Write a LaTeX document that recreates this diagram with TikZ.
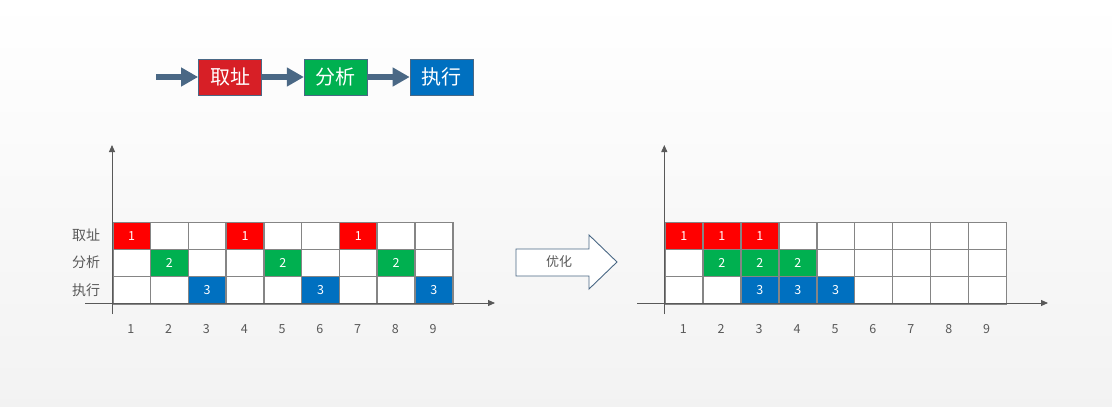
\documentclass[tikz,border=0pt]{standalone}
\usepackage{fontspec}
\setmainfont{Noto Sans CJK SC}
\usetikzlibrary{arrows.meta,positioning}

\definecolor{flowline}{HTML}{4A6885}
\definecolor{boxred}{HTML}{D71F26}
\definecolor{cellred}{HTML}{FF0000}
\definecolor{cellgreen}{HTML}{00B050}
\definecolor{cellblue}{HTML}{0070C0}
\definecolor{gridgray}{HTML}{858585}
\definecolor{axisgray}{HTML}{595959}

\tikzset{
  flowbox/.style={draw=flowline, line width=0.8pt, minimum width=63pt, minimum height=36pt,
    inner sep=0pt, text=white, font=\fontsize{20}{20}\selectfont},
  flowarrow/.style={draw=flowline, line width=6.5pt, -{Triangle[length=17pt,width=18pt]}},
  axisline/.style={draw=axisgray, line width=0.9pt, -{Triangle[length=7pt,width=6pt]}},
  cell/.style={draw=gridgray, line width=1.5pt, minimum width=37.8pt, minimum height=27.2pt,
    inner sep=0pt, anchor=north west, text=white, font=\fontsize{12.5}{12.5}\selectfont},
  ticklabel/.style={text=axisgray, font=\fontsize{12.5}{12.5}\selectfont},
  rowlabel/.style={text=axisgray, font=\fontsize{14}{14}\selectfont}
}

\begin{document}
\begin{tikzpicture}[x=1pt,y=-1pt]
    % Background
    \shade[top color=white, bottom color=black!5] (0,0) rectangle (1112,407);
    \useasboundingbox (0,0) rectangle (1112,407);

    % Pipeline stages
    \node[flowbox, fill=boxred] (fetch) at (230,77) {取址};
    \node[flowbox, fill=cellgreen, right=42pt of fetch] (decode) {分析};
    \node[flowbox, fill=cellblue, right=42pt of decode] (exec) {执行};
    \coordinate (start) at (156,77);
    \draw[flowarrow] (start) -- (fetch);
    \draw[flowarrow] (fetch) -- (decode);
    \draw[flowarrow] (decode) -- (exec);

    % Sequential schedule
    \foreach \r/\col in {1/cellred,2/cellgreen,3/cellblue} {
        \foreach \c in {1,...,9} {
            \pgfmathtruncatemacro{\m}{mod(\c-\r+9,3)}
            \ifnum\m=0
                \node[cell, fill=\col] (L\c\r) at ({112+(\c-1)*37.78},{221.5+(\r-1)*27.2}) {\r};
            \else
                \node[cell, fill=white] (L\c\r) at ({112+(\c-1)*37.78},{221.5+(\r-1)*27.2}) {};
            \fi
        }
    }
    \foreach \c in {1,...,9} {
        \node[ticklabel] (Lt\c) at ({112+(\c-0.5)*37.78},329) {\c};
    }
    \node[rowlabel] (lfetch) at (86,235.4) {取址};
    \node[rowlabel] (ldecode) at (86,262.6) {分析};
    \node[rowlabel] (lexec) at (86,289.8) {执行};
    \coordinate (Ly0) at (112,314);
    \coordinate (Ly1) at (112,145);
    \coordinate (Lx0) at (85,303);
    \coordinate (Lx1) at (495,303);
    \draw[axisline] (Ly0) -- (Ly1);
    \draw[axisline] (Lx0) -- (Lx1);

    % Optimise arrow
    \draw[draw=flowline, fill=white, line width=0.9pt]
        (516,249) -- (589,249) -- (589,235) -- (617,262) -- (589,289) -- (589,276) -- (516,276) -- cycle;
    \node[text=axisgray, font=\fontsize{13}{13}\selectfont] (opt) at (559,262) {优化};

    % Overlapped schedule
    \foreach \r/\col in {1/cellred,2/cellgreen,3/cellblue} {
        \foreach \c in {1,...,9} {
            \pgfmathtruncatemacro{\m}{(\c>=\r)&&(\c<=\r+2)}
            \ifnum\m=1
                \node[cell, fill=\col] (R\c\r) at ({664.3+(\c-1)*37.93},{221.5+(\r-1)*27.2}) {\r};
            \else
                \node[cell, fill=white] (R\c\r) at ({664.3+(\c-1)*37.93},{221.5+(\r-1)*27.2}) {};
            \fi
        }
    }
    \foreach \c in {1,...,9} {
        \node[ticklabel] (Rt\c) at ({664.3+(\c-0.5)*37.93},329) {\c};
    }
    \coordinate (Ry0) at (664.3,314);
    \coordinate (Ry1) at (664.3,145);
    \coordinate (Rx0) at (637,303);
    \coordinate (Rx1) at (1048,303);
    \draw[axisline] (Ry0) -- (Ry1);
    \draw[axisline] (Rx0) -- (Rx1);
\end{tikzpicture}
\end{document}
